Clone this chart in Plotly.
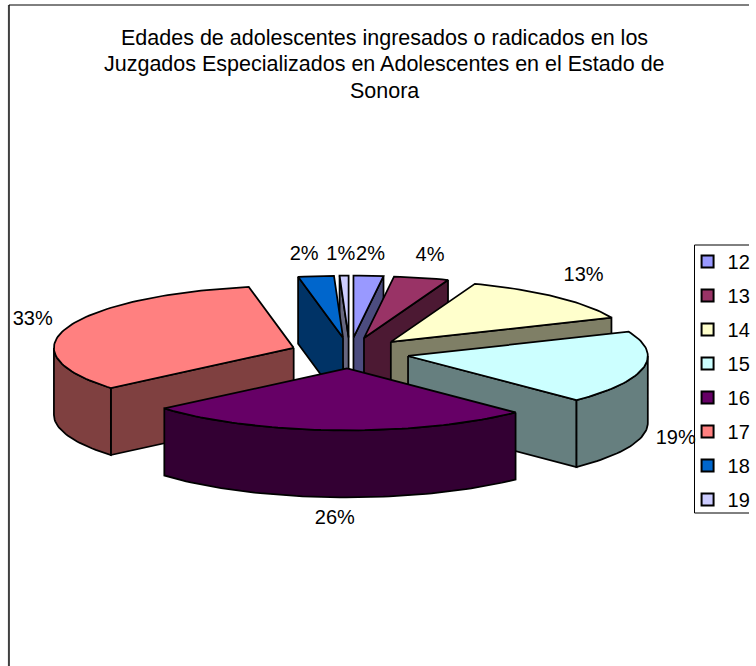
import math
import plotly.graph_objects as go

# ---- data ----
ages = ["12", "13", "14", "15", "16", "17", "18", "19"]
shares = [2.0, 3.7, 12.9, 19.0, 26.2, 33.2, 2.4, 0.6]
top_colors = ["#9999FF", "#993366", "#FFFFCC", "#CCFFFF", "#660066", "#FF8080", "#0066CC", "#CCCCFF"]
title_lines = [
    "Edades de adolescentes ingresados o radicados en los",
    "Juzgados Especializados en Adolescentes en el Estado de",
    "Sonora",
]

# ---- layout of the drawing ----
W, H = 756, 666
CX, CY = 353, 353        # pie centre
RX, RY = 242, 62         # ellipse of a slice rim
EXPLODE = 60             # explosion distance, along the ellipse direction
DEPTH = 67               # height of the pie wall
FONT = "Liberation Sans"
label_pos = [(374, 255), (434, 256), (589, 276), (682, 439), (338, 519), (33, 320), (307, 255), (344, 255)]
draw_order = [7, 6, 0, 1, 2, 5, 3, 4]  # back to front


def darker(hex_color):
    r, g, b = (int(hex_color[i:i + 2], 16) for i in (1, 3, 5))
    return f"rgb({r // 2},{g // 2},{b // 2})"


def rim(ax, ay, a0, a1, dy=0.0):
    """Rim points between two clockwise-from-top angles (degrees)."""
    n = max(2, int(abs(a1 - a0) / 1.5) + 1)
    pts = []
    for i in range(n + 1):
        t = math.radians(a0 + (a1 - a0) * i / n)
        pts.append((ax + RX * math.sin(t), ay - RY * math.cos(t) + dy))
    return pts


fig = go.Figure()


def poly(points, color):
    xs = [p[0] for p in points] + [points[0][0]]
    ys = [p[1] for p in points] + [points[0][1]]
    fig.add_trace(go.Scatter(x=xs, y=ys, mode="lines", fill="toself", fillcolor=color,
                             line=dict(color="black", width=1.75), hoverinfo="skip", showlegend=False))


total = sum(shares)
starts, a = [], 0.0
for s in shares:
    starts.append(a)
    a += s / total * 360

for i in draw_order:
    a0 = starts[i]
    a1 = a0 + shares[i] / total * 360
    mid = math.radians((a0 + a1) / 2)
    ax = CX + EXPLODE * math.sin(mid)
    ay = CY - EXPLODE * RY / RX * math.cos(mid)
    wall = darker(top_colors[i])
    # radial walls facing the viewer
    for edge, visible in ((a0, 180 < a0 < 360), (a1, 0 < a1 < 180)):
        if visible:
            o = rim(ax, ay, edge, edge)[0]
            poly([(ax, ay), o, (o[0], o[1] + DEPTH), (ax, ay + DEPTH)], wall)
    # outer wall, front half of the rim only
    lo, hi = max(a0, 90), min(a1, 270)
    if hi > lo:
        upper = rim(ax, ay, lo, hi)
        lower = rim(ax, ay, hi, lo, DEPTH)
        poly(upper + lower, wall)
    # top face
    poly([(ax, ay)] + rim(ax, ay, a0, a1), top_colors[i])

# data labels
fig.add_trace(go.Scatter(x=[p[0] for p in label_pos], y=[p[1] for p in label_pos], mode="text",
                         text=[f"{round(s)}%" for s in shares], textposition="middle center",
                         textfont=dict(family=FONT, size=20, color="black"),
                         hoverinfo="skip", showlegend=False))

# legend entries
for name, col in zip(ages, top_colors):
    fig.add_trace(go.Scatter(x=[None], y=[None], mode="markers", name=name, legendgroup=name,
                             marker=dict(symbol="square", size=12, color=col,
                                         line=dict(color="black", width=2))))

for line, y in zip(title_lines, (38, 64, 91)):
    fig.add_annotation(x=388, y=y, xref="x", yref="y", text=line, showarrow=False,
                       font=dict(family=FONT, size=21.5, color="black"))

fig.add_shape(type="line", x0=9, x1=9, y0=5, y1=H, xref="x", yref="y", line=dict(color="#404040", width=2))
fig.add_shape(type="line", x0=9, x1=W, y0=5, y1=5, xref="x", yref="y", line=dict(color="black", width=1))
# legend frame
fig.add_shape(type="rect", x0=701, x1=W + 5, y0=245, y1=513, xref="x", yref="y",
              fillcolor="white", line=dict(color="black", width=1), layer="between")

fig.update_layout(
    width=W, height=H, margin=dict(l=0, r=0, t=0, b=0),
    paper_bgcolor="white", plot_bgcolor="white",
    xaxis=dict(range=[0, W], visible=False, fixedrange=True),
    yaxis=dict(range=[H, 0], visible=False, fixedrange=True),
    showlegend=True,
    legend=dict(x=694 / W, y=1 - 242 / H, xanchor="left", yanchor="top",
                bgcolor="rgba(0,0,0,0)", borderwidth=0,
                font=dict(family=FONT, size=20, color="black"),
                tracegroupgap=5, itemclick=False, itemdoubleclick=False,
                entrywidth=30, entrywidthmode="pixels", itemwidth=30),
)
fig.write_html("out.html", config={"displayModeBar": False},
               post_script="document.body.style.margin='0';document.body.style.overflow='hidden';"
                           "document.documentElement.style.overflow='hidden';")
